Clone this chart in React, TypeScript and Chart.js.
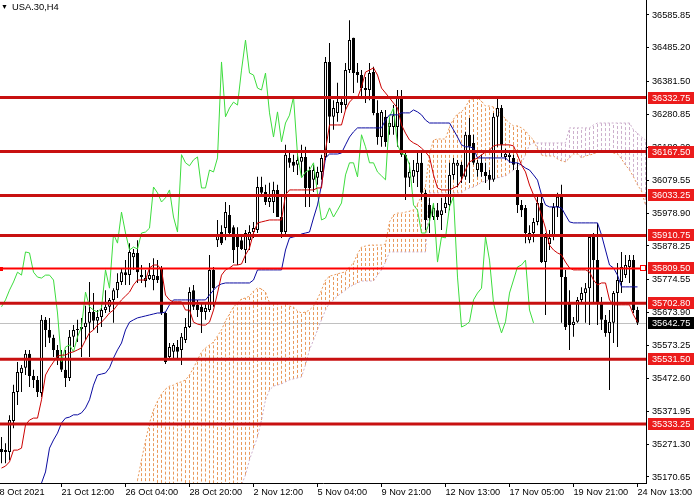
import React, { useEffect, useRef } from "react";
import { Chart, registerables } from "chart.js";

Chart.register(...registerables);

const FONT = '"Liberation Sans", Arial, sans-serif';
const FONT_SIZE = 9.2;

// ---- Candles (H4 bars, index 0..159) ----
const opens = [
  35256, 35247, 35247, 35342, 35431, 35489, 35505, 35548, 35480, 35468,
  35428, 35652, 35621, 35597, 35560, 35529, 35499, 35474, 35600, 35621,
  35624, 35630, 35643, 35676, 35649, 35661, 35682, 35692, 35713, 35743,
  35768, 35798, 35789, 35844, 35857, 35789, 35771, 35777, 35774, 35786,
  35811, 35673, 35538, 35554, 35569, 35560, 35590, 35630, 35743, 35698,
  35692, 35676, 35682, 35805, 35896, 35921, 35933, 35973, 35936, 35912,
  35896, 35866, 35896, 35921, 35927, 36059, 36044, 36013, 36013, 36050,
  35967, 35921, 36148, 36136, 36127, 36136, 36151, 36111, 36081, 36087,
  36105, 36151, 36442, 36274, 36286, 36319, 36310, 36417, 36516, 36411,
  36402, 36362, 36356, 36411, 36286, 36212, 36274, 36243, 36243, 36243,
  36335, 36158, 36087, 36090, 36105, 36133, 36041, 36004, 35967, 35988,
  35973, 35995, 36004, 36096, 36124, 36127, 36090, 36219, 36194, 36111,
  36133, 36105, 36096, 36081, 36274, 36301, 36151, 36151, 36148, 36111,
  36004, 35995, 35896, 35918, 35952, 36010, 35829, 35884, 35906, 35998,
  36029, 35783, 35704, 35636, 35646, 35713, 35734, 35749, 35906, 35835,
  35704, 35652, 35612, 35643, 35734, 35768, 35789, 35814, 35835, 35682,
];
const highs = [
  35293, 35274, 35360, 35453, 35523, 35514, 35560, 35560, 35499, 35480,
  35667, 35661, 35658, 35606, 35575, 35560, 35560, 35621, 35636, 35652,
  35658, 35695, 35768, 35734, 35682, 35698, 35743, 35719, 35749, 35795,
  35811, 35835, 35887, 35869, 35896, 35820, 35805, 35826, 35841, 35835,
  35817, 35676, 35581, 35581, 35590, 35612, 35658, 35752, 35759, 35713,
  35707, 35704, 35851, 35814, 35958, 35942, 36013, 36004, 35942, 35936,
  35912, 35927, 35942, 35952, 36090, 36090, 36066, 36072, 36075, 36066,
  36029, 36188, 36172, 36158, 36167, 36188, 36182, 36121, 36127, 36121,
  36158, 36457, 36500, 36325, 36378, 36335, 36439, 36570, 36516, 36439,
  36417, 36396, 36439, 36427, 36325, 36295, 36295, 36270, 36310, 36356,
  36356, 36172, 36133, 36142, 36163, 36163, 36050, 36026, 36010, 36010,
  36026, 36029, 36133, 36148, 36142, 36136, 36228, 36270, 36219, 36142,
  36158, 36133, 36111, 36286, 36332, 36310, 36176, 36163, 36158, 36133,
  36019, 36004, 35942, 35964, 36029, 36029, 35918, 35927, 36010, 36041,
  36066, 35805, 35743, 35661, 35722, 35752, 35765, 35912, 35918, 35949,
  35722, 35667, 35682, 35740, 35826, 35860, 35851, 35851, 35851, 35692,
];
const lows = [
  35213, 35213, 35222, 35320, 35391, 35431, 35483, 35446, 35443, 35416,
  35416, 35569, 35581, 35538, 35514, 35492, 35446, 35465, 35569, 35584,
  35538, 35590, 35538, 35621, 35612, 35630, 35673, 35676, 35643, 35719,
  35759, 35759, 35759, 35805, 35765, 35765, 35752, 35774, 35743, 35765,
  35667, 35517, 35535, 35529, 35529, 35514, 35581, 35627, 35682, 35661,
  35612, 35652, 35676, 35692, 35875, 35881, 35896, 35906, 35826, 35820,
  35866, 35826, 35866, 35903, 35918, 36029, 36004, 35998, 35979, 35967,
  35903, 35906, 36118, 36105, 36096, 36090, 35998, 35998, 36044, 36066,
  36081, 36142, 36194, 36234, 36259, 36286, 36295, 36408, 36347, 36378,
  36335, 36316, 36325, 36279, 36188, 36182, 36182, 36219, 36219, 36182,
  36151, 36019, 36059, 36071, 36059, 36019, 35927, 35918, 35958, 35958,
  35927, 35979, 35988, 36081, 36059, 36071, 36081, 36071, 36127, 36090,
  36090, 36071, 36050, 36075, 36182, 36151, 36142, 36133, 36111, 35979,
  35967, 35887, 35887, 35890, 35942, 35826, 35667, 35866, 35896, 35967,
  35643, 35621, 35560, 35600, 35643, 35704, 35643, 35636, 35704, 35636,
  35621, 35600, 35437, 35581, 35569, 35734, 35780, 35765, 35673, 35636,
];
const closes = [
  35247, 35253, 35345, 35431, 35492, 35505, 35548, 35480, 35468, 35431,
  35652, 35621, 35597, 35560, 35529, 35499, 35474, 35600, 35621, 35624,
  35630, 35643, 35676, 35649, 35661, 35682, 35692, 35713, 35743, 35768,
  35798, 35789, 35860, 35857, 35798, 35783, 35780, 35789, 35789, 35774,
  35673, 35523, 35569, 35575, 35554, 35600, 35630, 35737, 35692, 35682,
  35676, 35688, 35805, 35749, 35915, 35887, 35982, 35918, 35866, 35875,
  35869, 35918, 35921, 35933, 36059, 36041, 36013, 36026, 36050, 35967,
  35921, 36158, 36133, 36124, 36142, 36151, 36056, 36056, 36111, 36105,
  36148, 36442, 36274, 36301, 36319, 36310, 36417, 36509, 36408, 36402,
  36362, 36356, 36408, 36286, 36212, 36289, 36197, 36255, 36279, 36335,
  36158, 36087, 36105, 36111, 36133, 36041, 35958, 35964, 35995, 35967,
  35988, 36010, 36096, 36133, 36133, 36090, 36219, 36182, 36133, 36133,
  36105, 36093, 36081, 36274, 36301, 36188, 36161, 36158, 36127, 36004,
  35988, 35918, 35918, 35952, 36010, 35829, 35906, 35903, 35998, 36029,
  35783, 35630, 35636, 35646, 35713, 35734, 35749, 35906, 35835, 35704,
  35652, 35612, 35646, 35734, 35774, 35814, 35820, 35835, 35682, 35642.75,
];

// ---- Ichimoku lines ----
const tenkan = [
  35198, 35204, 35217, 35253, 35253, 35259, 35330, 35345, 35351, 35351,
  35407, 35483, 35505, 35523, 35541, 35544, 35544, 35551, 35554, 35560,
  35566, 35590, 35612, 35621, 35636, 35645, 35658, 35673, 35682, 35698,
  35713, 35725, 35737, 35759, 35774, 35774, 35774, 35811, 35820, 35820,
  35805, 35728, 35713, 35707, 35707, 35707, 35682, 35682, 35645, 35639,
  35636, 35636, 35645, 35682, 35734, 35789, 35805, 35811, 35820, 35820,
  35823, 35851, 35872, 35918, 35949, 35952, 35955, 35958, 35958, 35958,
  35958, 36035, 36050, 36050, 36050, 36050, 36050, 36050, 36050, 36056,
  36056, 36172, 36249, 36249, 36249, 36249, 36295, 36319, 36332, 36332,
  36365, 36411, 36417, 36424, 36402, 36362, 36347, 36332, 36316, 36301,
  36249, 36224, 36203, 36194, 36188, 36178, 36166, 36151, 36096, 36056,
  36050, 36050, 36050, 36056, 36062, 36080, 36111, 36136, 36142, 36148,
  36157, 36166, 36172, 36185, 36188, 36188, 36188, 36188, 36185, 36157,
  36126, 36105, 36065, 36035, 36010, 35973, 35933, 35881, 35866, 35857,
  35851, 35829, 35811, 35805, 35805, 35805, 35805, 35799, 35774, 35759,
  35765, 35765, 35713, 35698, 35698, 35698, 35698, 35698, 35667, 35645,
];
const kijun = [
  null, null, null, null, null, null, null, null, null, null,
  35152, 35186, 35259, 35284, 35305, 35336, 35351, 35354, 35361, 35361,
  35367, 35382, 35407, 35452, 35483, 35486, 35489, 35505, 35535, 35560,
  35581, 35621, 35645, 35652, 35658, 35661, 35664, 35667, 35670, 35673,
  35673, 35676, 35698, 35713, 35713, 35713, 35713, 35713, 35713, 35713,
  35713, 35713, 35728, 35743, 35756, 35762, 35765, 35765, 35765, 35765,
  35765, 35765, 35765, 35774, 35805, 35805, 35805, 35805, 35805, 35805,
  35805, 35866, 35903, 35906, 35909, 35915, 35918, 35921, 35964, 36004,
  36065, 36148, 36160, 36160, 36160, 36163, 36188, 36212, 36228, 36240,
  36240, 36240, 36240, 36240, 36240, 36240, 36264, 36280, 36280, 36280,
  36286, 36286, 36286, 36295, 36289, 36280, 36264, 36255, 36255, 36255,
  36255, 36255, 36255, 36234, 36212, 36188, 36182, 36182, 36178, 36148,
  36148, 36148, 36148, 36148, 36148, 36148, 36148, 36136, 36133, 36133,
  36126, 36117, 36111, 36096, 36080, 36035, 36004, 35998, 35998, 35998,
  35995, 35973, 35952, 35949, 35949, 35949, 35949, 35949, 35949, 35949,
  35912, 35866, 35820, 35811, 35789, 35753, 35753, 35753, 35753, 35753,
];
const NULL34 = [
  null, null, null, null, null, null, null, null, null, null,
  null, null, null, null, null, null, null, null, null, null,
  null, null, null, null, null, null, null, null, null, null,
  null, null, null, null,
];
const senkouA = [
  ...NULL34,
  35161, 35223, 35281, 35336, 35376, 35403, 35425, 35440, 35449, 35452,
  35459, 35462, 35468, 35483, 35505, 35529, 35554, 35566, 35575, 35584,
  35603, 35621, 35649, 35670, 35691, 35704, 35716, 35719, 35725, 35740,
  35750, 35747, 35737, 35704, 35704, 35704, 35704, 35704, 35694, 35691,
  35679, 35673, 35676, 35682, 35694, 35716, 35743, 35774, 35786, 35789,
  35793, 35796, 35799, 35814, 35826, 35854, 35875, 35878, 35881, 35881,
  35881, 35881, 35884, 35952, 35973, 35979, 35979, 35982, 35985, 35989,
  36007, 36031, 36062, 36160, 36203, 36206, 36206, 36206, 36243, 36267,
  36283, 36289, 36304, 36326, 36329, 36332, 36322, 36307, 36307, 36304,
  36292, 36283, 36267, 36255, 36246, 36246, 36240, 36231, 36215, 36203,
  36175, 36157, 36154, 36154, 36154, 36145, 36139, 36136, 36148, 36160,
  36160, 36148, 36154, 36157, 36160, 36166, 36169, 36169, 36169, 36163,
  36160, 36145, 36126, 36111, 36090, 36065, 36047, 36004,
];
const senkouB = [
  ...NULL34,
  35020, 35020, 35020, 35020, 35020, 35030, 35030, 35040, 35040, 35040,
  35050, 35050, 35060, 35060, 35070, 35070, 35080, 35080, 35090, 35090,
  35100, 35100, 35110, 35115, 35120, 35130, 35146, 35177, 35223, 35259,
  35293, 35345, 35407, 35437, 35449, 35452, 35456, 35462, 35468, 35471,
  35474, 35477, 35514, 35560, 35590, 35621, 35652, 35682, 35704, 35713,
  35725, 35734, 35743, 35753, 35759, 35765, 35771, 35771, 35771, 35771,
  35789, 35805, 35829, 35860, 35860, 35860, 35860, 35860, 35860, 35860,
  35860, 35860, 35860, 36041, 36041, 36041, 36041, 36041, 36041, 36041,
  36041, 36041, 36050, 36056, 36059, 36065, 36074, 36077, 36080, 36084,
  36087, 36090, 36093, 36102, 36111, 36120, 36133, 36157, 36188, 36194,
  36194, 36194, 36194, 36194, 36194, 36194, 36194, 36194, 36240, 36240,
  36240, 36240, 36240, 36240, 36249, 36255, 36255, 36255, 36255, 36255,
  36255, 36255, 36255, 36255, 36234, 36224, 36212, 36203,
];
const CHIKOU_SHIFT = 26;

// ---- Horizontal levels & price ----
const levels = [36332.75, 36167.5, 36033.25, 35910.75, 35809.5, 35702.8, 35531.5, 35333.25];
const selectedLevel = 35809.5;
const currentPrice = 35642.75;

// ---- Axes ----
const yTicks = [
  36585.85, 36485.2, 36381.5, 36280.85, 36180.2, 36079.55, 35978.9, 35878.25,
  35774.55, 35673.9, 35573.25, 35472.6, 35371.95, 35271.3, 35170.65,
];
const xTickBars = [-1.75, 15, 31, 47, 63, 79, 95, 111, 127, 143, 159];
const xTickLabels = [
  "18 Oct 2021", "21 Oct 12:00", "26 Oct 04:00", "28 Oct 20:00", "2 Nov 12:00",
  "5 Nov 04:00", "9 Nov 21:00", "12 Nov 13:00", "17 Nov 05:00", "19 Nov 21:00", "24 Nov 13:00",
];
const X_MIN = -0.375;
const X_MAX = 161.125;
const Y_MIN = 35152.2;
const Y_MAX = 36631.8;

const SANDY = "#e99a5c";
const THISTLE = "#cdb0cd";

const overlayPlugin = {
  id: "mtOverlay",
  beforeDatasetsDraw(chart: any) {
    const { ctx, chartArea, scales } = chart;
    const py = Math.round(scales.y.getPixelForValue(currentPrice)) + 0.5;
    ctx.save();
    ctx.strokeStyle = "#c0c0c0";
    ctx.lineWidth = 1;
    ctx.beginPath();
    ctx.moveTo(chartArea.left, py);
    ctx.lineTo(chartArea.right, py);
    ctx.stroke();
    ctx.restore();
  },
  afterDatasetsDraw(chart: any) {
    const { ctx, chartArea, scales } = chart;
    ctx.save();
    ctx.beginPath();
    ctx.rect(chartArea.left, chartArea.top, chartArea.right - chartArea.left, chartArea.bottom - chartArea.top);
    ctx.clip();
    for (const v of levels) {
      const sel = v === selectedLevel;
      const py = scales.y.getPixelForValue(v);
      ctx.strokeStyle = sel ? "#ff0000" : "#c81010";
      ctx.lineWidth = sel ? 2 : 3;
      ctx.beginPath();
      ctx.moveTo(chartArea.left, py);
      ctx.lineTo(chartArea.right, py);
      ctx.stroke();
      if (sel) {
        ctx.fillStyle = "#ff0000";
        ctx.fillRect(chartArea.left, Math.round(py) - 1, 3, 4);
        ctx.fillStyle = "#ffffff";
        ctx.fillRect(chartArea.right - 5, Math.round(py) - 2, 4, 4);
        ctx.strokeStyle = "#ff0000";
        ctx.lineWidth = 1;
        ctx.strokeRect(chartArea.right - 5.5, Math.round(py) - 2.5, 5, 5);
      }
    }
    ctx.restore();
  },
  afterDraw(chart: any) {
    const { ctx, chartArea, scales } = chart;
    ctx.save();
    ctx.font = `${FONT_SIZE}px ${FONT}`;
    ctx.textBaseline = "middle";
    ctx.textAlign = "left";
    const boxL = chartArea.right + 2;
    const boxW = 46;
    const boxH = 12;
    const drawBox = (v: number, bg: string) => {
      const py = scales.y.getPixelForValue(v);
      ctx.fillStyle = bg;
      ctx.fillRect(boxL, Math.round(py - boxH / 2), boxW, boxH);
      ctx.fillStyle = "#ffffff";
      ctx.fillText(v.toFixed(2), chartArea.right + 6, Math.round(py) + 0.5);
    };
    for (const v of levels) drawBox(v, "#ec1c1c");
    drawBox(currentPrice, "#000000");
    ctx.restore();
  },
};

export default function App() {
  const canvasRef = useRef<HTMLCanvasElement>(null);

  useEffect(() => {
    const canvas = canvasRef.current;
    if (!canvas) return;
    const ctx = canvas.getContext("2d")!;

    const idx = closes.map((_, i) => i);
    const wickData = idx.map((i) => ({ x: i, y: [lows[i], highs[i]] }));
    const bodyData = idx.map((i) => ({ x: i, y: [opens[i], closes[i]] }));
    const bodyColors = idx.map((i) => (closes[i] >= opens[i] ? "#ffffff" : "#000000"));

    // Cloud: one vertical dotted segment per bar, from Senkou B to Senkou A
    const cIdx = senkouA.map((_, j) => j);
    const valid = (j: number) => senkouA[j] != null && senkouB[j] != null;
    const segs = (up: boolean) => {
      const out: any[] = [];
      cIdx.forEach((j) => {
        if (!valid(j)) return;
        const a = senkouA[j] as number;
        const b = senkouB[j] as number;
        if (up ? a >= b : a < b) {
          out.push({ x: j, y: Math.min(a, b) }, { x: j, y: Math.max(a, b) }, { x: j, y: null });
        }
      });
      return out;
    };
    const lineA = cIdx.map((j) => ({ x: j, y: senkouA[j] }));
    const lineB = cIdx.map((j) => ({ x: j, y: senkouB[j] }));
    const chikou = closes.slice(CHIKOU_SHIFT).map((v, j) => ({ x: j, y: v }));
    const tk = tenkan.map((v, i) => ({ x: i, y: v }));
    const kj = kijun.map((v, i) => ({ x: i, y: v }));

    const barBase = {
      type: "bar" as const,
      grouped: false,
      inflateAmount: 0,
      borderSkipped: false,
      borderWidth: 0,
    };
    const lineBase = {
      type: "line" as const,
      pointRadius: 0,
      borderWidth: 1,
      fill: false,
      tension: 0,
      spanGaps: false,
    };

    const chart = new Chart(ctx, {
      type: "bar",
      data: {
        datasets: [
          { ...lineBase, label: "cloudUp", data: segs(true), borderColor: SANDY, borderDash: [3, 2], order: 10 },
          { ...lineBase, label: "cloudDown", data: segs(false), borderColor: THISTLE, borderDash: [3, 2], order: 10 },
          { ...lineBase, label: "Senkou A", data: lineA as any, borderColor: SANDY, borderDash: [2, 2], order: 9 },
          { ...lineBase, label: "Senkou B", data: lineB as any, borderColor: THISTLE, borderDash: [2, 2], order: 9 },
          { ...barBase, label: "wick", data: wickData as any, barThickness: 1, backgroundColor: "#000000", order: 6 },
          {
            ...barBase,
            label: "body",
            data: bodyData as any,
            barThickness: 3,
            backgroundColor: bodyColors,
            borderColor: "#000000",
            borderWidth: 1,
            minBarLength: 1,
            order: 5,
          },
          { ...lineBase, label: "Chikou", data: chikou as any, borderColor: "#3ddc3d", order: 3 },
          { ...lineBase, label: "Kijun", data: kj as any, borderColor: "#0a0aa0", order: 2 },
          { ...lineBase, label: "Tenkan", data: tk as any, borderColor: "#cc0000", order: 1 },
        ] as any,
      },
      options: {
        responsive: false,
        animation: false,
        events: [],
        layout: { padding: 0, autoPadding: false } as any,
        plugins: {
          legend: { display: false },
          tooltip: { enabled: false },
          title: { display: false },
        },
        scales: {
          x: {
            type: "linear",
            min: X_MIN,
            max: X_MAX,
            offset: false,
            position: "bottom",
            grid: { display: true, drawOnChartArea: false, drawTicks: true, tickLength: 4, color: "#000000", offset: false },
            border: { display: true, color: "#000000", width: 1 },
            ticks: {
              autoSkip: false,
              maxRotation: 0,
              minRotation: 0,
              align: "start",
              padding: 0,
              color: "#000000",
              font: { family: FONT, size: FONT_SIZE },
              callback: (_v: any, i: number) => xTickLabels[i] ?? "",
            },
            afterBuildTicks: (s: any) => {
              s.ticks = xTickBars.map((v) => ({ value: v }));
            },
            afterFit: (s: any) => {
              s.height = 17;
              s.paddingLeft = 0;
              s.paddingRight = 0;
            },
          },
          y: {
            type: "linear",
            position: "right",
            min: Y_MIN,
            max: Y_MAX,
            grid: { display: true, drawOnChartArea: false, drawTicks: true, tickLength: 3, color: "#000000" },
            border: { display: true, color: "#000000", width: 1 },
            ticks: {
              padding: 3,
              color: "#000000",
              font: { family: FONT, size: FONT_SIZE },
              callback: (v: any) => Number(v).toFixed(2),
            },
            afterBuildTicks: (s: any) => {
              s.ticks = yTicks.map((v) => ({ value: v }));
            },
            afterFit: (s: any) => {
              s.width = 54;
              s.paddingTop = 0;
              s.paddingBottom = 0;
            },
          },
        } as any,
      },
      plugins: [overlayPlugin],
    });

    return () => chart.destroy();
  }, []);

  return (
    <div style={{ position: "fixed", left: 0, top: 0, width: 700, height: 500, background: "#ffffff", overflow: "hidden" }}>
      <canvas ref={canvasRef} width={700} height={500} style={{ display: "block" }} />
      <div
        style={{
          position: "absolute",
          left: 1,
          top: 1,
          fontFamily: FONT,
          fontSize: 9.4,
          lineHeight: "11px",
          color: "#000000",
          whiteSpace: "nowrap",
        }}
      >
        <span style={{ fontSize: 7, marginRight: 4, position: "relative", top: -1 }}>▼</span>
        USA.30,H4
      </div>
    </div>
  );
}
